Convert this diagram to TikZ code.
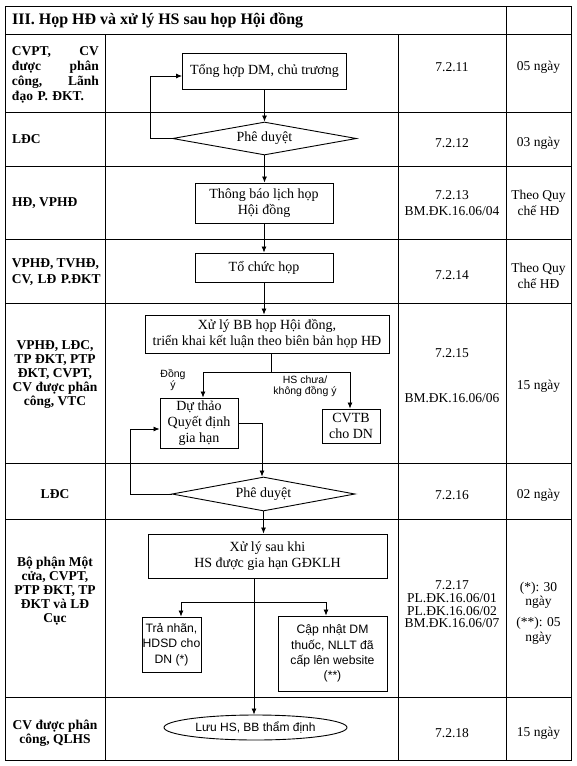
\documentclass[tikz,border=0pt]{standalone}
\usepackage{fontspec}
\setmainfont{Liberation Serif}
\newfontfamily\sansf{Liberation Sans}
\usetikzlibrary{shapes.geometric,arrows.meta}
\newcommand\ftbox{\fontsize{14pt}{16pt}\selectfont}
\newcommand\ftcol{\fontsize{13.5pt}{16pt}\selectfont}
\newcommand\ftwho{\fontsize{13.5pt}{14pt}\selectfont\bfseries}
\newcommand\ftlab{\sansf\fontsize{10.5pt}{11pt}\selectfont}
\newcommand\ftsb{\sansf\fontsize{12.2pt}{15.3pt}\selectfont}
\begin{document}
\begin{tikzpicture}[x=1pt,y=-1pt,
  grid/.style={line width=0.9pt},
  box/.style={draw,line width=0.9pt,rectangle,inner sep=0pt,align=center,font=\ftbox},
  dia/.style={draw,line width=0.9pt,diamond,aspect=5.5,inner sep=0pt,font=\ftbox},
  arr/.style={line width=0.8pt,-{Latex[length=6pt,width=5pt]}},
  ln/.style={line width=0.8pt},
  col/.style={align=center,font=\ftcol,inner sep=0pt},
  lab/.style={align=center,font=\ftlab,inner sep=0pt},
  who/.style={align=center,font=\ftwho,inner sep=0pt}]
\useasboundingbox (0,0) rectangle (576,766);
% table
\draw[grid] (5,6) rectangle (571,760);
\foreach \yy in {34,112,166,239,303,463,519,697} \draw[grid] (5,\yy) -- (571,\yy);
\draw[grid] (105,34) -- (105,760);
\draw[grid] (398,34) -- (398,760);
\draw[grid] (506,6) -- (506,760);
% header
\node[anchor=west,inner sep=0pt,font=\fontsize{16pt}{18pt}\selectfont\bfseries] (hdr) at (12,20) {III. Họp HĐ và xử lý HS sau họp Hội đồng};
% who column
\node[who,text width=90pt,align=left,font=\fontsize{13.5pt}{15pt}\selectfont\bfseries] (w1) at (57,74.5) {\makebox[87pt][s]{CVPT,\hfill CV}\\\makebox[87pt][s]{được\hfill phân}\\\makebox[87pt][s]{công,\hfill Lãnh}\\đạo P. ĐKT.};
\node[who,anchor=west] (w2) at (12,139) {LĐC};
\node[who,anchor=west] (w3) at (12,203) {HĐ, VPHĐ};
\node[who,text width=92pt,align=left,font=\fontsize{13.5pt}{16pt}\selectfont\bfseries] (w4) at (58,272) {\makebox[87pt][s]{VPHĐ,\hfill TVHĐ,}\\CV, LĐ P.ĐKT};
\node[who] (w5) at (55,374.5) {VPHĐ, LĐC,\\TP ĐKT, PTP\\ĐKT, CVPT,\\CV được phân\\công, VTC};
\node[who] (w6) at (55,494) {LĐC};
\node[who] (w7) at (55,591) {Bộ phận Một\\cửa, CVPT,\\PTP ĐKT, TP\\ĐKT và LĐ\\Cục};
\node[who] (w8) at (55,733.5) {CV được phân\\công, QLHS};
% code column
\node[col] (c1) at (452,67) {7.2.11};
\node[col] (c2) at (452,143) {7.2.12};
\node[col] (c3) at (452,203) {7.2.13\\BM.ĐK.16.06/04};
\node[col] (c4) at (452,275) {7.2.14};
\node[col] (c5a) at (452,353) {7.2.15};
\node[col] (c5b) at (452,398) {BM.ĐK.16.06/06};
\node[col] (c6) at (452,495) {7.2.16};
\node[col,font=\fontsize{13.5pt}{12.6pt}\selectfont] (c7) at (452,604.5) {7.2.17\\PL.ĐK.16.06/01\\PL.ĐK.16.06/02\\BM.ĐK.16.06/07};
\node[col] (c8) at (452,733) {7.2.18};
% time column
\node[col] (t1) at (538.5,67) {05 ngày};
\node[col] (t2) at (538.5,143) {03 ngày};
\node[col] (t3) at (538.5,203) {Theo Quy\\chế HĐ};
\node[col] (t4) at (538.5,275.5) {Theo Quy\\chế HĐ};
\node[col] (t5) at (538.5,386) {15 ngày};
\node[col] (t6) at (538.5,495) {02 ngày};
\node[col,font=\fontsize{13.5pt}{14pt}\selectfont] (t7a) at (538.5,595) {(*): 30\\ngày};
\node[col,font=\fontsize{13.5pt}{15pt}\selectfont] (t7b) at (538.5,630.5) {(**): 05\\ngày};
\node[col] (t8) at (538.5,733) {15 ngày};
% flow nodes
\node[box,minimum width=164pt,minimum height=36pt] (b1) at (264.5,71) {Tổng hợp DM, chủ trương};
\node[dia,minimum width=184pt,minimum height=33pt] (d1) at (264.5,138.5) {Phê duyệt};
\node[box,minimum width=138pt,minimum height=40pt] (b2) at (264,203) {Thông báo lịch họp\\Hội đồng};
\node[box,minimum width=138pt,minimum height=29pt] (b3) at (264,267.5) {Tổ chức họp};
\node[box,minimum width=244pt,minimum height=38pt] (b4) at (267,334) {Xử lý BB họp Hội đồng,\\triển khai kết luận theo biên bản họp HĐ};
\node[box,minimum width=78pt,minimum height=50pt] (b5) at (199,423) {Dự thảo\\Quyết định\\gia hạn};
\node[box,minimum width=58pt,minimum height=34pt] (b6) at (351,426) {CVTB\\cho DN};
\node[dia,minimum width=183pt,minimum height=34pt] (d2) at (263.5,494) {Phê duyệt};
\node[box,minimum width=239pt,minimum height=44pt] (b7) at (267.5,556) {Xử lý sau khi\\HS được gia hạn GĐKLH};
\node[box,minimum width=59pt,minimum height=55pt,font=\ftsb] (b8) at (171.5,644.5) {Trả nhãn,\\HDSD cho\\DN (*)};
\node[box,minimum width=109pt,minimum height=75pt,font=\ftsb] (b9) at (332.5,653.5) {Cập nhật DM\\thuốc, NLLT đã\\cấp lên website\\(**)};
\node[draw,line width=0.9pt,ellipse,inner sep=0pt,minimum width=183pt,minimum height=25pt,font=\sansf\fontsize{12pt}{14pt}\selectfont] (e1) at (255.5,727.5) {Lưu HS, BB thẩm định};
% labels
\node[lab] (lbA) at (173,380) {Đồng\\ý};
\node[lab] (lbB) at (305,386) {HS chưa/\\không đồng ý};
% connectors
\coordinate (l1a) at (150,138.5);
\coordinate (l1b) at (150,76);
\draw[arr] (d1.west) -- (l1a) -- (l1b) -- (l1b -| b1.west);
\draw[arr] (b1.south) -- (d1.north);
\draw[arr] (d1.south) -- (d1.south |- b2.north);
\draw[arr] (b2.south) -- (b3.north);
\draw[arr] (b3.south) -- (b3.south |- b4.north);
\coordinate (s1) at (271,372);
\coordinate (s1l) at (203,372);
\coordinate (s1r) at (350,372);
\draw[ln] (b4.south -| s1) -- (s1);
\draw[ln] (s1l) -- (s1r);
\draw[arr] (s1l) -- (s1l |- b5.north);
\draw[arr] (s1r) -- (s1r |- b6.north);
\coordinate (k2) at (262,423);
\draw[arr] (b5.east) -- (k2) -- (k2 |- d2.north);
\coordinate (l2a) at (130,494);
\coordinate (l2b) at (130,429);
\draw[arr] (d2.west) -- (l2a) -- (l2b) -- (l2b -| b5.west);
\draw[arr] (d2.south) -- (d2.south |- b7.north);
\coordinate (v7) at (254,600);
\draw[arr] (b7.south -| v7) -- (v7 |- e1.north);
\coordinate (s2l) at (181,602);
\coordinate (s2r) at (326,602);
\draw[ln] (s2l) -- (s2r);
\draw[arr] (s2l) -- (s2l |- b8.north);
\draw[arr] (s2r) -- (s2r |- b9.north);
\end{tikzpicture}
\end{document}
